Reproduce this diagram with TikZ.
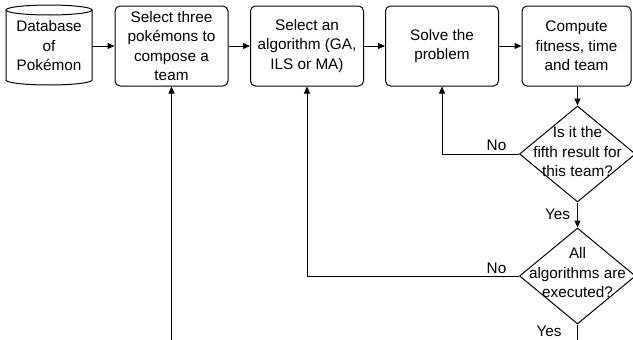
\documentclass[tikz,border=0pt]{standalone}
\usepackage{fontspec}
\setmainfont{Liberation Sans}
\usetikzlibrary{arrows.meta,shapes.geometric}
\begin{document}
\begin{tikzpicture}[x=1pt,y=-1pt,
  font=\fontsize{15.3}{19.5}\selectfont,
  box/.style={draw,rounded corners=5pt,minimum width=113pt,minimum height=80pt,align=center,inner sep=0pt,line width=1pt},
  dia/.style={draw,diamond,minimum width=116pt,minimum height=96pt,inner sep=0pt,line width=1pt},
  txt/.style={align=center,inner sep=0pt},
  arr/.style={-{Triangle[length=7pt,width=6pt]},line width=1pt},
  plain/.style={line width=1pt},
  lbl/.style={inner sep=0pt}
]
\clip (0,0) rectangle (633,340);
% database cylinder
\node[txt,minimum width=86pt,minimum height=80pt] (db) at (49,46) {Database\\of\\Pokémon};
\draw[plain] (6,10) -- (6,80) .. controls (6,82.76) and (25.25,85) .. (49,85) .. controls (72.75,85) and (92,82.76) .. (92,80) -- (92,10);
\draw[plain] (49,10) ellipse (43 and 5);
% process boxes
\node[box] (team) at (171.5,46) {Select three\\pokémons to\\compose a\\team};
\node[box] (alg) at (307,46) {Select an\\algorithm (GA,\\ILS or MA)};
\node[box] (solve) at (442,46) {Solve the\\problem};
\node[box,minimum width=109pt] (fit) at (576.5,46) {Compute\\fitness, time\\and team};
% decisions
\node[dia] (d1) at (577.5,154) {};
\node[txt] (d1t) at (577.5,152) {Is it the\\fifth result for\\this team?};
\node[dia] (d2) at (577.5,276) {};
\node[txt] (d2t) at (577.5,273) {All\\algorithms are\\executed?};
% labels
\node[lbl] (no1) at (496.5,145) {No};
\node[lbl] (yes1) at (557.5,214) {Yes};
\node[lbl] (no2) at (496.5,268) {No};
\node[lbl] (yes2) at (549,331) {Yes};
% connectors
\draw[arr] (db.east) -- (team.west);
\draw[arr] (team) -- (alg);
\draw[arr] (alg) -- (solve);
\draw[arr] (solve) -- (fit);
\draw[arr] (d1.north |- fit.south) -- (d1.north);
\draw[arr] (d1.west) -| (solve.south);
\draw[arr] (d1.south) -- (d2.north);
\draw[arr] (d2.west) -| (alg.south);
\coordinate (out1) at (171.5,345);
\coordinate (out2) at (577.5,345);
\draw[arr] (out1) -- (team.south);
\draw[plain] (d2.south) -- (out2);
\end{tikzpicture}
\end{document}
